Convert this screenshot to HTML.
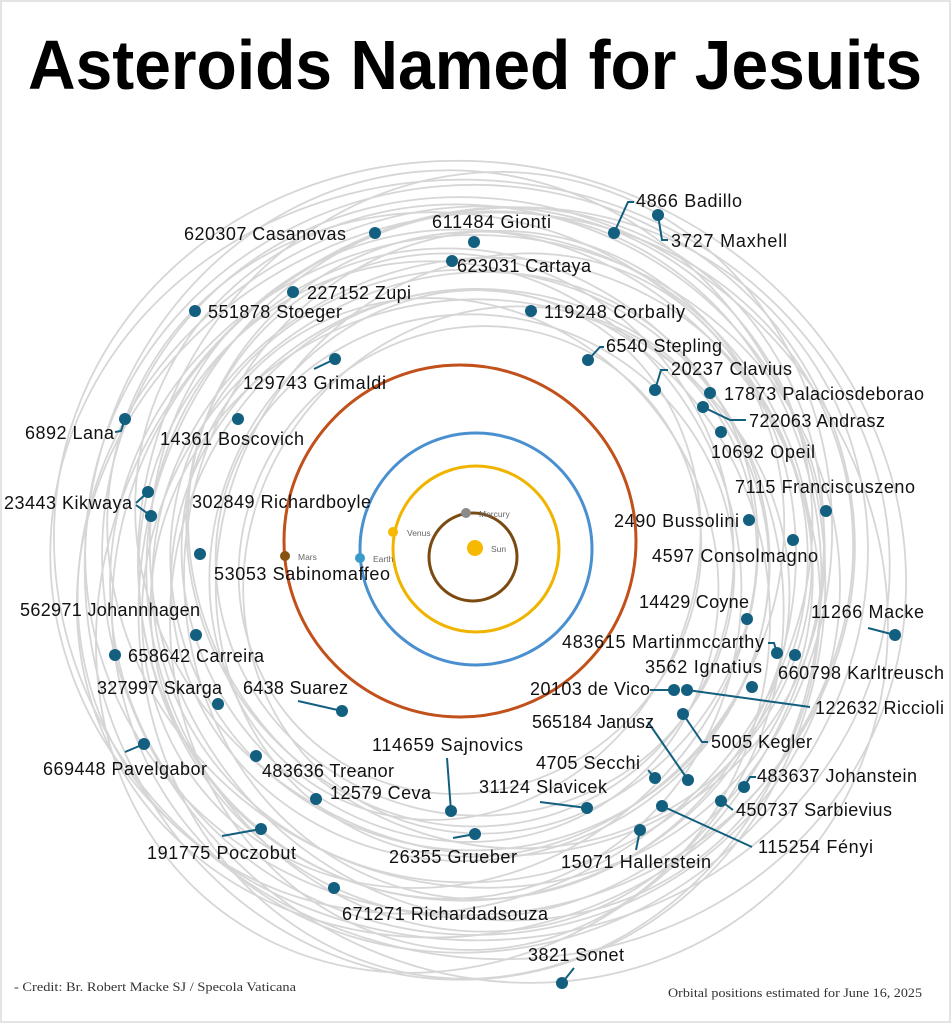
<!DOCTYPE html>
<html><head><meta charset="utf-8"><style>
html,body{margin:0;padding:0;background:#fff;overflow:hidden;width:951px;height:1024px}
svg{display:block}
.l{font-family:"Liberation Sans",sans-serif;font-size:18px;fill:#111}
.d{fill:#135f7f}
.k{stroke:#135f7f;stroke-width:2;fill:none}
.o ellipse{fill:none;stroke:#d6d6d6;stroke-width:1.8}
</style></head><body>
<svg width="951" height="1024" viewBox="0 0 951 1024" xmlns="http://www.w3.org/2000/svg">
<rect x="1" y="1" width="949" height="1021" fill="#fff" stroke="#e4e4e4" stroke-width="2"/>
<text x="28" y="89" font-family="Liberation Sans,sans-serif" font-weight="bold" font-size="70" textLength="894" lengthAdjust="spacingAndGlyphs" fill="#000">Asteroids Named for Jesuits</text>
<g class="o">
<ellipse cx="470" cy="560" rx="300" ry="290" transform="rotate(10 470 560)"/>
<ellipse cx="480" cy="570" rx="330" ry="310" transform="rotate(-20 480 570)"/>
<ellipse cx="460" cy="550" rx="360" ry="330" transform="rotate(30 460 550)"/>
<ellipse cx="490" cy="580" rx="390" ry="360" transform="rotate(-40 490 580)"/>
<ellipse cx="470" cy="560" rx="420" ry="380" transform="rotate(5 470 560)"/>
<ellipse cx="450" cy="570" rx="280" ry="260" transform="rotate(50 450 570)"/>
<ellipse cx="500" cy="555" rx="310" ry="275" transform="rotate(-60 500 555)"/>
<ellipse cx="465" cy="590" rx="345" ry="315" transform="rotate(70 465 590)"/>
<ellipse cx="485" cy="545" rx="375" ry="345" transform="rotate(-75 485 545)"/>
<ellipse cx="455" cy="575" rx="405" ry="370" transform="rotate(85 455 575)"/>
<ellipse cx="475" cy="565" rx="260" ry="250" transform="rotate(15 475 565)"/>
<ellipse cx="470" cy="600" rx="320" ry="300" transform="rotate(-10 470 600)"/>
<ellipse cx="480" cy="530" rx="350" ry="320" transform="rotate(25 480 530)"/>
<ellipse cx="445" cy="560" rx="380" ry="340" transform="rotate(-35 445 560)"/>
<ellipse cx="495" cy="590" rx="410" ry="375" transform="rotate(45 495 590)"/>
<ellipse cx="470" cy="560" rx="240" ry="225" transform="rotate(-50 470 560)"/>
<ellipse cx="460" cy="540" rx="290" ry="270" transform="rotate(65 460 540)"/>
<ellipse cx="490" cy="565" rx="335" ry="305" transform="rotate(-80 490 565)"/>
<ellipse cx="475" cy="585" rx="365" ry="350" transform="rotate(0 475 585)"/>
<ellipse cx="465" cy="575" rx="395" ry="355" transform="rotate(-25 465 575)"/>
<ellipse cx="480" cy="560" rx="430" ry="395" transform="rotate(20 480 560)"/>
<ellipse cx="470" cy="620" rx="300" ry="330" transform="rotate(0 470 620)"/>
<ellipse cx="455" cy="555" rx="270" ry="240" transform="rotate(-65 455 555)"/>
<ellipse cx="485" cy="575" rx="355" ry="325" transform="rotate(55 485 575)"/>
<ellipse cx="470" cy="550" rx="385" ry="365" transform="rotate(-5 470 550)"/>
<ellipse cx="500" cy="570" rx="250" ry="270" transform="rotate(35 500 570)"/>
<ellipse cx="450" cy="580" rx="325" ry="290" transform="rotate(-45 450 580)"/>
<ellipse cx="480" cy="595" rx="340" ry="385" transform="rotate(10 480 595)"/>
<ellipse cx="440" cy="580" rx="300" ry="320" transform="rotate(-15 440 580)"/>
<ellipse cx="500" cy="540" rx="320" ry="300" transform="rotate(40 500 540)"/>
<ellipse cx="470" cy="575" rx="285" ry="300" transform="rotate(75 470 575)"/>
<ellipse cx="460" cy="590" rx="400" ry="345" transform="rotate(-55 460 590)"/>
</g>
<circle cx="460" cy="541" r="176" fill="none" stroke="#c1501a" stroke-width="3"/>
<circle cx="476" cy="549" r="116" fill="none" stroke="#4a90d0" stroke-width="3"/>
<circle cx="476" cy="549" r="83" fill="none" stroke="#f0b400" stroke-width="3"/>
<circle cx="473" cy="557" r="44" fill="none" stroke="#7a4a10" stroke-width="3"/>
<circle cx="475" cy="548" r="8" fill="#f6b800"/>
<circle cx="466" cy="513" r="5" fill="#8a8a8a"/>
<circle cx="393" cy="532" r="5" fill="#f6b800"/>
<circle cx="360" cy="558" r="5" fill="#3a9ac8"/>
<circle cx="285" cy="556" r="5" fill="#8a5210"/>
<g font-family="Liberation Sans,sans-serif" font-size="8.5" fill="#666">
<text x="491" y="552">Sun</text><text x="479" y="517">Mercury</text><text x="407" y="536">Venus</text><text x="373" y="562">Earth</text><text x="298" y="560">Mars</text>
</g>
<g class="k">
<path d="M614 233 L628 202 L634 202"/>
<path d="M658 215 L662 240 L668 240"/>
<path d="M588 360 L600 347 L604 347"/>
<path d="M335 359 L314 369"/>
<path d="M655 390 L661 370 L668 370"/>
<path d="M703 407 L730 420 L746 420"/>
<path d="M125 419 L121 431 L115 432"/>
<path d="M148 492 L136 503 M151 516 L136 505"/>
<path d="M895 635 L868 628"/>
<path d="M342 711 L298 701"/>
<path d="M650 690 L674 690"/>
<path d="M687 690 L810 707"/>
<path d="M648 722 L688 780"/>
<path d="M683 714 L702 742 L708 742"/>
<path d="M144 744 L125 752"/>
<path d="M447 758 L451 811"/>
<path d="M744 787 L750 777 L756 777"/>
<path d="M587 808 L540 802"/>
<path d="M721 801 L733 810"/>
<path d="M662 806 L752 847"/>
<path d="M475 834 L453 838"/>
<path d="M261 829 L222 836"/>
<path d="M640 830 L636 850"/>
<path d="M562 983 L574 968"/>
<path d="M655 778 L648 770"/>
<path d="M768 643 L774 643 L777 653"/>
</g>
<g class="d">
<circle cx="375" cy="233" r="6"/><circle cx="474" cy="242" r="6"/><circle cx="452" cy="261" r="6"/>
<circle cx="614" cy="233" r="6"/><circle cx="658" cy="215" r="6"/><circle cx="293" cy="292" r="6"/>
<circle cx="195" cy="311" r="6"/><circle cx="531" cy="311" r="6"/><circle cx="588" cy="360" r="6"/>
<circle cx="335" cy="359" r="6"/><circle cx="655" cy="390" r="6"/><circle cx="710" cy="393" r="6"/>
<circle cx="703" cy="407" r="6"/><circle cx="125" cy="419" r="6"/><circle cx="238" cy="419" r="6"/>
<circle cx="721" cy="432" r="6"/><circle cx="148" cy="492" r="6"/><circle cx="151" cy="516" r="6"/>
<circle cx="826" cy="511" r="6"/><circle cx="749" cy="520" r="6"/><circle cx="200" cy="554" r="6"/>
<circle cx="793" cy="540" r="6"/><circle cx="747" cy="619" r="6"/><circle cx="895" cy="635" r="6"/>
<circle cx="777" cy="653" r="6"/><circle cx="795" cy="655" r="6"/><circle cx="115" cy="655" r="6"/>
<circle cx="196" cy="635" r="6"/><circle cx="752" cy="687" r="6"/><circle cx="218" cy="704" r="6"/>
<circle cx="342" cy="711" r="6"/><circle cx="674" cy="690" r="6"/><circle cx="687" cy="690" r="6"/>
<circle cx="688" cy="780" r="6"/><circle cx="683" cy="714" r="6"/><circle cx="144" cy="744" r="6"/>
<circle cx="451" cy="811" r="6"/><circle cx="256" cy="756" r="6"/><circle cx="655" cy="778" r="6"/>
<circle cx="744" cy="787" r="6"/><circle cx="316" cy="799" r="6"/><circle cx="587" cy="808" r="6"/>
<circle cx="721" cy="801" r="6"/><circle cx="662" cy="806" r="6"/><circle cx="475" cy="834" r="6"/>
<circle cx="261" cy="829" r="6"/><circle cx="640" cy="830" r="6"/><circle cx="334" cy="888" r="6"/>
<circle cx="562" cy="983" r="6"/>
</g>
<g class="l" lengthAdjust="spacingAndGlyphs">
<text x="184" y="240" textLength="162">620307 Casanovas</text>
<text x="432" y="228" textLength="119">611484 Gionti</text>
<text x="457" y="272" textLength="134">623031 Cartaya</text>
<text x="636" y="207" textLength="106">4866 Badillo</text>
<text x="671" y="247" textLength="116">3727 Maxhell</text>
<text x="307" y="299" textLength="104">227152 Zupi</text>
<text x="208" y="318" textLength="134">551878 Stoeger</text>
<text x="544" y="318" textLength="141">119248 Corbally</text>
<text x="606" y="352" textLength="116">6540 Stepling</text>
<text x="243" y="389" textLength="143">129743 Grimaldi</text>
<text x="671" y="375" textLength="121">20237 Clavius</text>
<text x="724" y="400" textLength="200">17873 Palaciosdeborao</text>
<text x="749" y="427" textLength="136">722063 Andrasz</text>
<text x="25" y="439" textLength="89">6892 Lana</text>
<text x="160" y="445" textLength="144">14361 Boscovich</text>
<text x="711" y="458" textLength="104">10692 Opeil</text>
<text x="4" y="509" textLength="128">23443 Kikwaya</text>
<text x="192" y="508" textLength="179">302849 Richardboyle</text>
<text x="735" y="493" textLength="180">7115 Franciscuszeno</text>
<text x="614" y="527" textLength="125">2490 Bussolini</text>
<text x="214" y="580" textLength="176">53053 Sabinomaffeo</text>
<text x="652" y="562" textLength="166">4597 Consolmagno</text>
<text x="20" y="616" textLength="180">562971 Johannhagen</text>
<text x="639" y="608" textLength="110">14429 Coyne</text>
<text x="811" y="618" textLength="113">11266 Macke</text>
<text x="562" y="648" textLength="202">483615 Martinmccarthy</text>
<text x="778" y="679" textLength="166">660798 Karltreusch</text>
<text x="128" y="662" textLength="136">658642 Carreira</text>
<text x="645" y="673" textLength="117">3562 Ignatius</text>
<text x="97" y="694" textLength="125">327997 Skarga</text>
<text x="243" y="694" textLength="105">6438 Suarez</text>
<text x="530" y="695" textLength="120">20103 de Vico</text>
<text x="815" y="714" textLength="129">122632 Riccioli</text>
<text x="532" y="728" textLength="122">565184 Janusz</text>
<text x="711" y="748" textLength="101">5005 Kegler</text>
<text x="43" y="775" textLength="164">669448 Pavelgabor</text>
<text x="372" y="751" textLength="151">114659 Sajnovics</text>
<text x="262" y="777" textLength="132">483636 Treanor</text>
<text x="536" y="769" textLength="104">4705 Secchi</text>
<text x="757" y="782" textLength="160">483637 Johanstein</text>
<text x="330" y="799" textLength="101">12579 Ceva</text>
<text x="479" y="793" textLength="128">31124 Slavicek</text>
<text x="736" y="816" textLength="156">450737 Sarbievius</text>
<text x="758" y="853" textLength="115">115254 Fényi</text>
<text x="389" y="863" textLength="128">26355 Grueber</text>
<text x="147" y="859" textLength="149">191775 Poczobut</text>
<text x="561" y="868" textLength="150">15071 Hallerstein</text>
<text x="342" y="920" textLength="206">671271 Richardadsouza</text>
<text x="528" y="961" textLength="96">3821 Sonet</text>
</g>
<g font-family="Liberation Serif,serif" font-size="13" fill="#333">
<text x="14" y="991" textLength="282" lengthAdjust="spacingAndGlyphs">- Credit: Br. Robert Macke SJ / Specola Vaticana</text>
<text x="668" y="997" textLength="254" lengthAdjust="spacingAndGlyphs">Orbital positions estimated for June 16, 2025</text>
</g>
</svg>
</body></html>
